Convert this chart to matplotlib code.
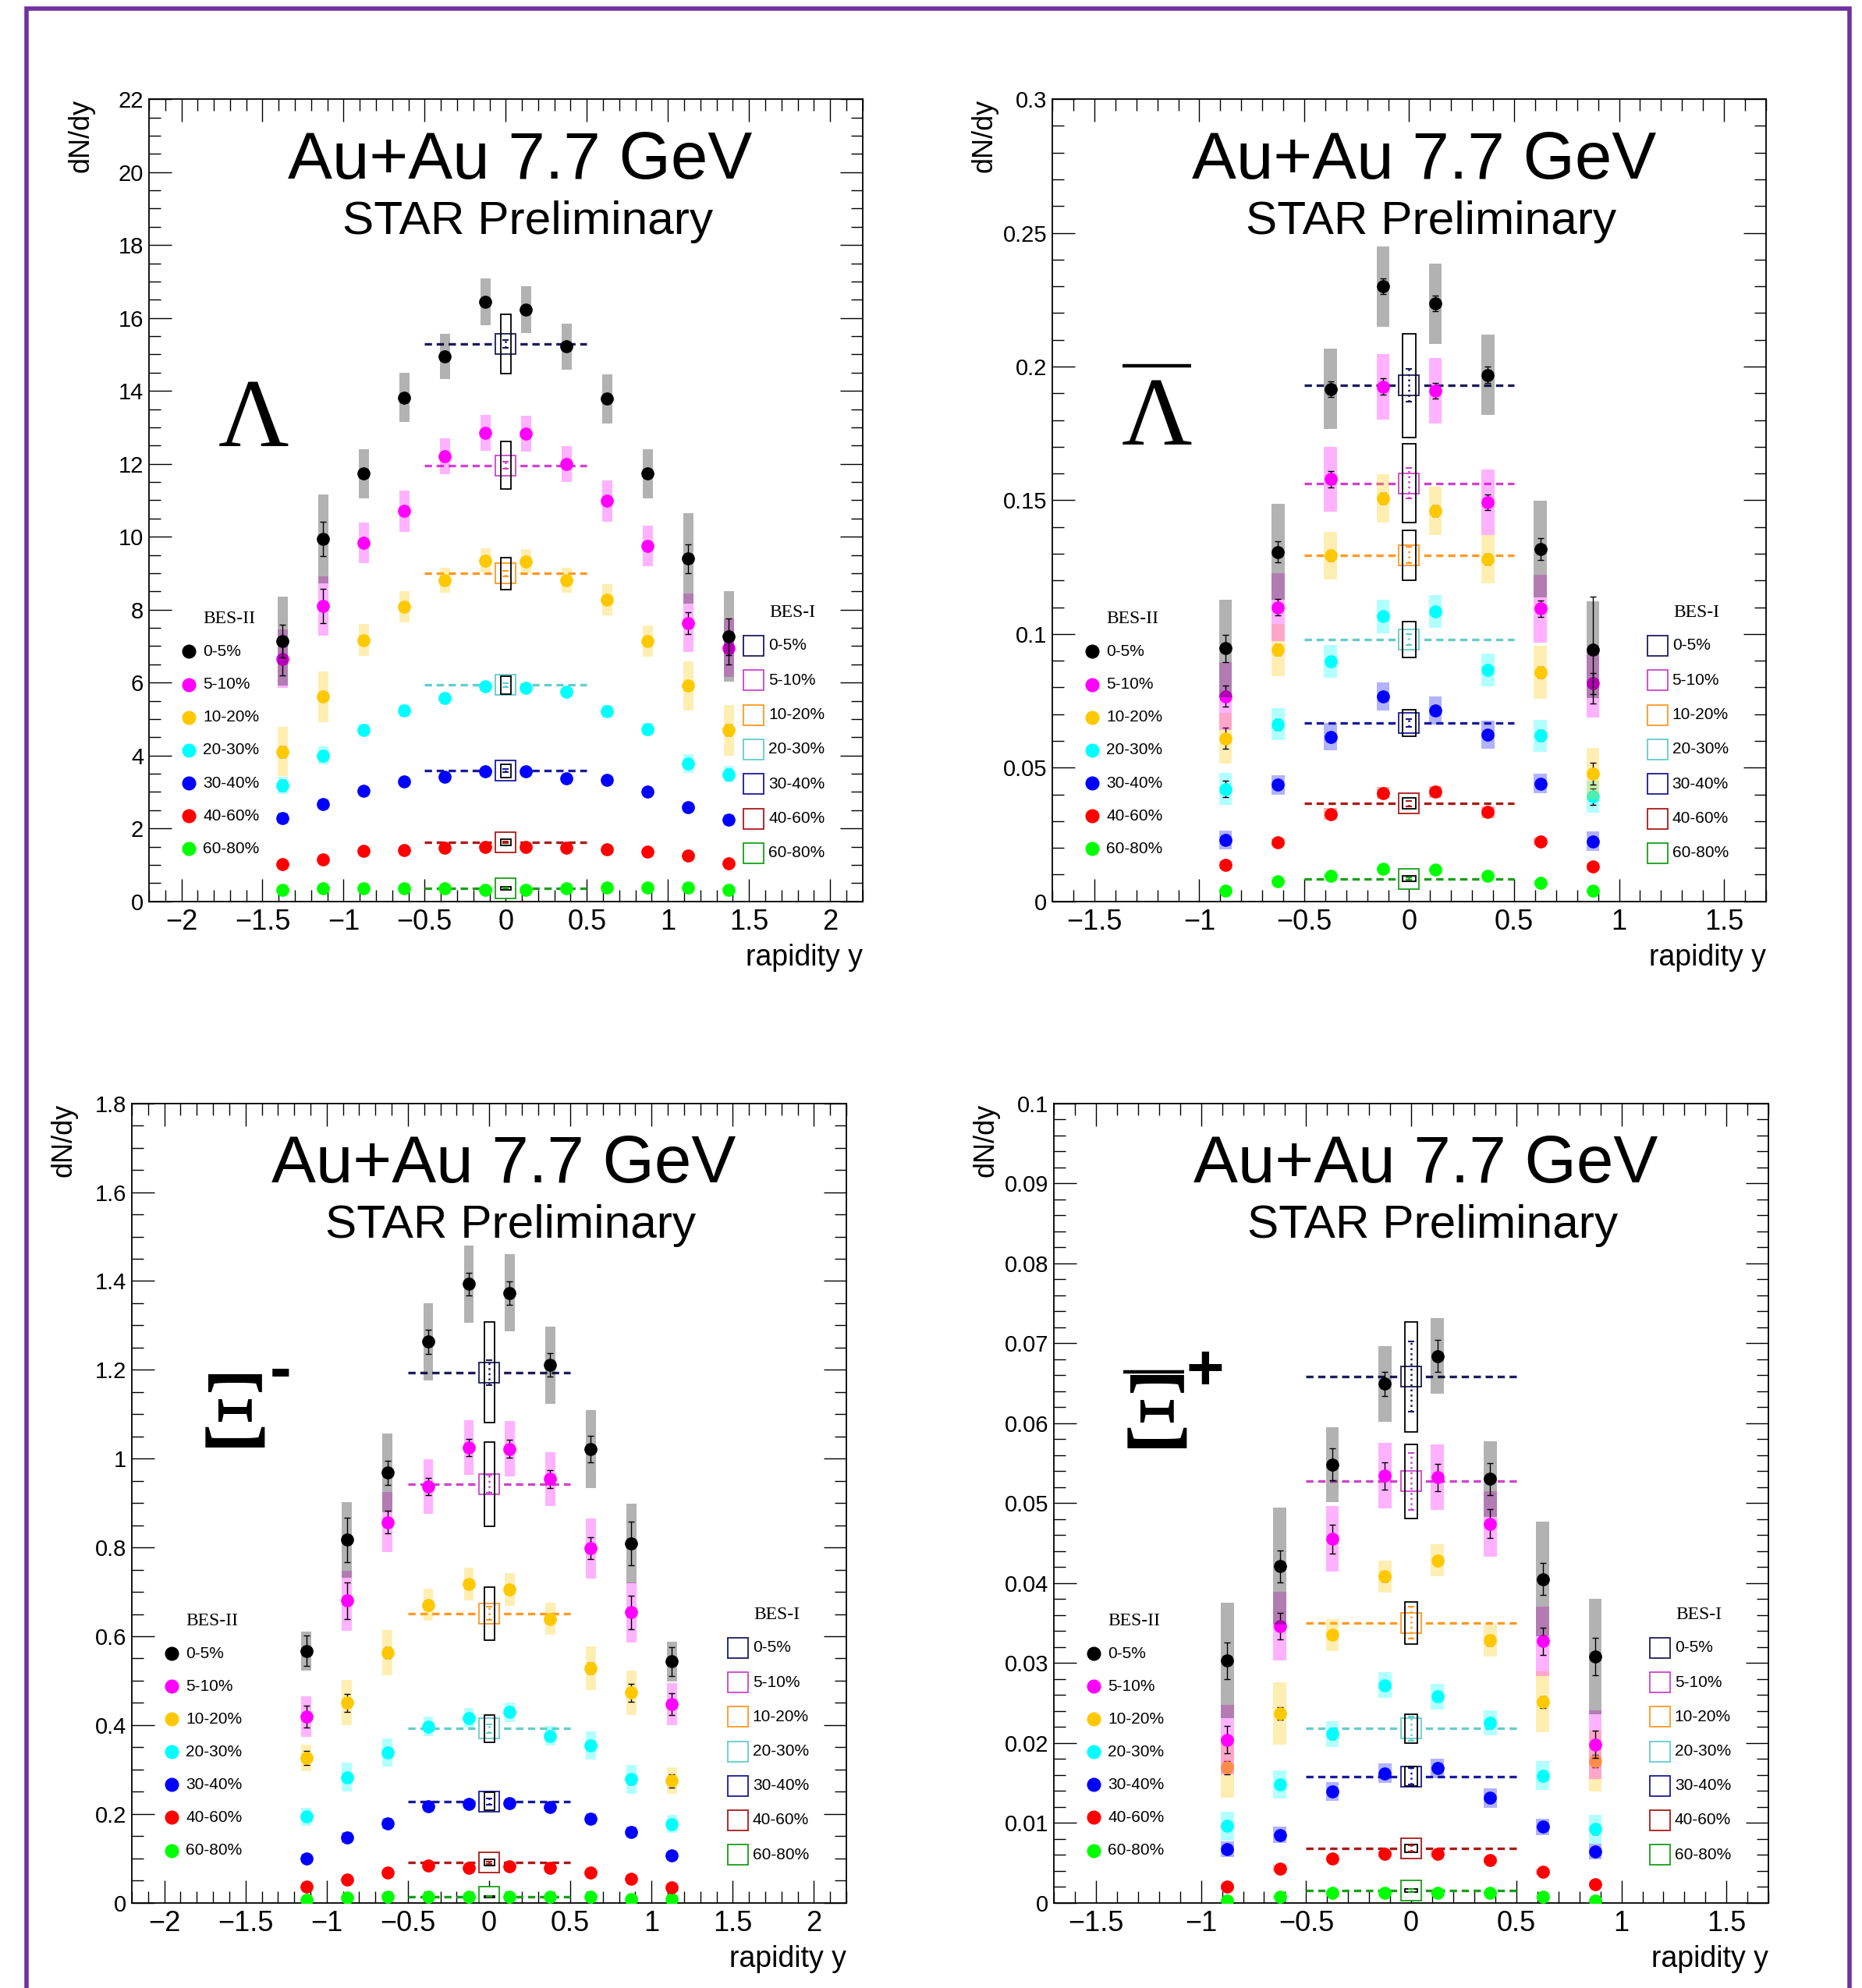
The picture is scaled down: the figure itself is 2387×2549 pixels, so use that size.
import matplotlib
matplotlib.use('Agg')
import matplotlib.pyplot as plt
from matplotlib.patches import Rectangle
from matplotlib.ticker import MultipleLocator, FuncFormatter

plt.rcParams['font.family'] = ['Liberation Sans', 'DejaVu Sans']

# ---------------- data ----------------
centralities = ['0-5%', '5-10%', '10-20%', '20-30%', '30-40%', '40-60%', '60-80%']
bes2_colors = ['#000000', '#FF00FF', '#FFC800', '#00FFFF', '#0000FF', '#FF0000', '#00FF00']
bes1_colors = ['#1C1C5A', '#CC44CC', '#FF9922', '#66CCCC', '#1A1A99', '#AA1A1A', '#1A9E1A']
bes1_range = [-0.5, 0.5]

# Lambda
lam_rap = [-1.375, -1.125, -0.875, -0.625, -0.375, -0.125, 0.125, 0.375, 0.625, 0.875, 1.125, 1.375]
lam_val = [
    [7.14, 9.94, 11.73, 13.82, 14.95, 16.45, 16.22, 15.22, 13.78, 11.73, 9.40, 7.26],
    [6.65, 8.10, 9.84, 10.70, 12.20, 12.85, 12.82, 11.99, 10.98, 9.75, 7.64, 6.95],
    [4.11, 5.61, 7.17, 8.08, 8.80, 9.35, 9.33, 8.80, 8.27, 7.13, 5.91, 4.69],
    [3.18, 4.00, 4.71, 5.23, 5.58, 5.89, 5.85, 5.74, 5.22, 4.73, 3.78, 3.49],
    [2.28, 2.67, 3.04, 3.28, 3.42, 3.57, 3.57, 3.37, 3.33, 3.00, 2.58, 2.23],
    [1.03, 1.15, 1.38, 1.40, 1.46, 1.50, 1.50, 1.46, 1.42, 1.36, 1.25, 1.04],
    [0.32, 0.35, 0.36, 0.36, 0.36, 0.32, 0.32, 0.35, 0.37, 0.37, 0.37, 0.32],
]
lam_stat = [
    [0.45, 0.47, 0.12, 0.10, 0.10, 0.10, 0.10, 0.10, 0.10, 0.12, 0.40, 0.50],
    [0.45, 0.48, 0.10, 0.10, 0.08, 0.08, 0.08, 0.08, 0.10, 0.10, 0.30, 0.45],
    [0.15, 0.12, 0.08, 0.06, 0.06, 0.06, 0.06, 0.06, 0.06, 0.08, 0.12, 0.15],
    [0.15, 0.08, 0.05, 0.05, 0.04, 0.04, 0.04, 0.04, 0.05, 0.05, 0.08, 0.15],
    [0.10, 0.05, 0.04, 0.03, 0.03, 0.03, 0.03, 0.03, 0.03, 0.04, 0.05, 0.10],
    [0.04, 0.03, 0.02, 0.02, 0.02, 0.02, 0.02, 0.02, 0.02, 0.02, 0.03, 0.04],
    [0.02, 0.02, 0.02, 0.02, 0.02, 0.02, 0.02, 0.02, 0.02, 0.02, 0.02, 0.02],
]
lam_sys = [
    [1.22, 1.22, 0.68, 0.68, 0.62, 0.64, 0.64, 0.63, 0.68, 0.68, 1.24, 1.24],
    [0.80, 0.81, 0.56, 0.56, 0.49, 0.49, 0.49, 0.49, 0.57, 0.56, 0.81, 0.80],
    [0.68, 0.69, 0.43, 0.43, 0.34, 0.34, 0.34, 0.34, 0.43, 0.43, 0.68, 0.69],
    [0.23, 0.25, 0.17, 0.17, 0.13, 0.13, 0.13, 0.13, 0.17, 0.17, 0.25, 0.23],
    [0.15, 0.13, 0.09, 0.09, 0.08, 0.08, 0.08, 0.08, 0.09, 0.09, 0.13, 0.15],
    [0.06, 0.06, 0.05, 0.05, 0.04, 0.04, 0.04, 0.04, 0.05, 0.05, 0.06, 0.06],
    [0.03, 0.03, 0.03, 0.03, 0.03, 0.03, 0.03, 0.03, 0.03, 0.03, 0.03, 0.03],
]
lam_b1_val = [15.29, 11.96, 8.99, 5.93, 3.58, 1.62, 0.36]
lam_b1_sys = [0.82, 0.66, 0.44, 0.25, 0.18, 0.08, 0.04]
lam_b1_stat = [0.10, 0.10, 0.08, 0.05, 0.04, 0.02, 0.01]

# anti-Lambda
alam_rap = [-0.875, -0.625, -0.375, -0.125, 0.125, 0.375, 0.625, 0.875]
alam_val = [
    [0.0946, 0.1307, 0.1916, 0.2300, 0.2236, 0.1969, 0.1318, 0.0941],
    [0.0767, 0.1100, 0.1579, 0.1925, 0.1910, 0.1493, 0.1095, 0.0815],
    [0.0610, 0.0941, 0.1293, 0.1508, 0.1460, 0.1279, 0.0857, 0.0477],
    [0.0420, 0.0662, 0.0898, 0.1066, 0.1084, 0.0866, 0.0620, 0.0392],
    [0.0230, 0.0436, 0.0616, 0.0767, 0.0713, 0.0623, 0.0441, 0.0225],
    [0.0136, 0.0221, 0.0326, 0.0405, 0.0410, 0.0334, 0.0223, 0.0131],
    [0.0039, 0.0074, 0.0095, 0.0121, 0.0118, 0.0095, 0.0069, 0.0039],
]
alam_stat = [
    [0.0050, 0.0040, 0.0030, 0.0030, 0.0030, 0.0030, 0.0040, 0.0200],
    [0.0040, 0.0030, 0.0030, 0.0030, 0.0030, 0.0030, 0.0030, 0.0040],
    [0.0040, 0.0020, 0.0020, 0.0020, 0.0020, 0.0020, 0.0020, 0.0040],
    [0.0030, 0.0020, 0.0015, 0.0015, 0.0015, 0.0015, 0.0020, 0.0030],
    [0.0015, 0.0010, 0.0010, 0.0010, 0.0010, 0.0010, 0.0010, 0.0015],
    [0.0010, 0.0008, 0.0008, 0.0008, 0.0008, 0.0008, 0.0008, 0.0010],
    [0.0005, 0.0005, 0.0005, 0.0005, 0.0005, 0.0005, 0.0005, 0.0005],
]
alam_sys = [
    [0.0182, 0.0180, 0.0150, 0.0150, 0.0150, 0.0150, 0.0180, 0.0180],
    [0.0127, 0.0126, 0.0122, 0.0123, 0.0122, 0.0122, 0.0127, 0.0127],
    [0.0096, 0.0098, 0.0090, 0.0090, 0.0090, 0.0090, 0.0098, 0.0097],
    [0.0060, 0.0060, 0.0062, 0.0062, 0.0062, 0.0062, 0.0060, 0.0060],
    [0.0036, 0.0036, 0.0052, 0.0052, 0.0052, 0.0052, 0.0036, 0.0036],
    [0.0015, 0.0015, 0.0022, 0.0022, 0.0022, 0.0022, 0.0015, 0.0015],
    [0.0008, 0.0008, 0.0008, 0.0008, 0.0008, 0.0008, 0.0008, 0.0008],
]
alam_b1_val = [0.1930, 0.1564, 0.1295, 0.0979, 0.0667, 0.0366, 0.0085]
alam_b1_sys = [0.0194, 0.0147, 0.0094, 0.0068, 0.0050, 0.0020, 0.0009]
alam_b1_stat = [0.0060, 0.0056, 0.0030, 0.0020, 0.0015, 0.0010, 0.0005]

# Xi-
xi_rap = [-1.125, -0.875, -0.625, -0.375, -0.125, 0.125, 0.375, 0.625, 0.875, 1.125]
xi_val = [
    [0.567, 0.817, 0.968, 1.263, 1.393, 1.373, 1.211, 1.022, 0.809, 0.543],
    [0.419, 0.680, 0.857, 0.937, 1.025, 1.022, 0.954, 0.798, 0.654, 0.447],
    [0.326, 0.450, 0.563, 0.671, 0.718, 0.706, 0.639, 0.528, 0.473, 0.275],
    [0.194, 0.283, 0.338, 0.397, 0.416, 0.429, 0.376, 0.354, 0.278, 0.177],
    [0.100, 0.147, 0.179, 0.217, 0.223, 0.225, 0.215, 0.189, 0.159, 0.106],
    [0.037, 0.052, 0.068, 0.083, 0.079, 0.082, 0.078, 0.067, 0.054, 0.034],
    [0.007, 0.011, 0.013, 0.013, 0.013, 0.013, 0.013, 0.013, 0.009, 0.009],
]
xi_stat = [
    [0.034, 0.050, 0.028, 0.027, 0.026, 0.026, 0.026, 0.030, 0.050, 0.032],
    [0.025, 0.042, 0.025, 0.020, 0.020, 0.020, 0.020, 0.025, 0.038, 0.025],
    [0.015, 0.020, 0.012, 0.010, 0.010, 0.010, 0.010, 0.012, 0.020, 0.015],
    [0.008, 0.010, 0.008, 0.006, 0.006, 0.006, 0.006, 0.008, 0.012, 0.008],
    [0.005, 0.005, 0.005, 0.005, 0.005, 0.005, 0.005, 0.005, 0.005, 0.005],
    [0.003, 0.003, 0.003, 0.003, 0.003, 0.003, 0.003, 0.003, 0.003, 0.003],
    [0.002, 0.002, 0.002, 0.002, 0.002, 0.002, 0.002, 0.002, 0.002, 0.002],
]
xi_sys = [
    [0.044, 0.085, 0.089, 0.087, 0.087, 0.087, 0.087, 0.088, 0.089, 0.044],
    [0.046, 0.068, 0.068, 0.061, 0.062, 0.062, 0.061, 0.068, 0.068, 0.047],
    [0.030, 0.051, 0.051, 0.036, 0.037, 0.037, 0.036, 0.050, 0.050, 0.030],
    [0.020, 0.032, 0.032, 0.022, 0.022, 0.022, 0.022, 0.032, 0.032, 0.020],
    [0.010, 0.012, 0.012, 0.010, 0.010, 0.010, 0.010, 0.012, 0.012, 0.010],
    [0.005, 0.005, 0.005, 0.005, 0.005, 0.005, 0.005, 0.005, 0.005, 0.005],
    [0.002, 0.002, 0.002, 0.002, 0.002, 0.002, 0.002, 0.002, 0.002, 0.002],
]
xi_b1_val = [1.194, 0.943, 0.651, 0.392, 0.228, 0.090, 0.014]
xi_b1_sys = [0.113, 0.095, 0.060, 0.030, 0.020, 0.007, 0.002]
xi_b1_stat = [0.028, 0.020, 0.015, 0.010, 0.007, 0.003, 0.001]

# anti-Xi+
axi_rap = [-0.875, -0.625, -0.375, -0.125, 0.125, 0.375, 0.625, 0.875]
axi_val = [
    [0.0303, 0.0421, 0.0548, 0.0649, 0.0684, 0.0530, 0.0405, 0.0308],
    [0.0204, 0.0346, 0.0455, 0.0534, 0.0532, 0.0474, 0.0327, 0.0198],
    [0.0169, 0.0237, 0.0335, 0.0408, 0.0428, 0.0328, 0.0251, 0.0177],
    [0.0096, 0.0148, 0.0211, 0.0272, 0.0258, 0.0225, 0.0159, 0.0092],
    [0.0067, 0.0085, 0.0139, 0.0162, 0.0168, 0.0131, 0.0095, 0.0064],
    [0.0020, 0.0043, 0.0055, 0.0061, 0.0061, 0.0053, 0.0039, 0.0023],
    [0.0003, 0.0007, 0.0012, 0.0012, 0.0012, 0.0012, 0.0007, 0.0003],
]
axi_stat = [
    [0.0023, 0.0020, 0.0020, 0.0015, 0.0020, 0.0020, 0.0020, 0.0023],
    [0.0017, 0.0017, 0.0018, 0.0017, 0.0017, 0.0018, 0.0017, 0.0017],
    [0.0008, 0.0008, 0.0006, 0.0006, 0.0006, 0.0006, 0.0007, 0.0008],
    [0.0006, 0.0006, 0.0006, 0.0006, 0.0006, 0.0006, 0.0006, 0.0006],
    [0.0004, 0.0004, 0.0004, 0.0004, 0.0004, 0.0004, 0.0004, 0.0004],
    [0.0003, 0.0003, 0.0003, 0.0003, 0.0003, 0.0003, 0.0003, 0.0003],
    [0.0002, 0.0002, 0.0002, 0.0002, 0.0002, 0.0002, 0.0002, 0.0002],
]
axi_sys = [
    [0.0072, 0.0073, 0.0047, 0.0047, 0.0047, 0.0047, 0.0072, 0.0072],
    [0.0043, 0.0043, 0.0041, 0.0041, 0.0041, 0.0041, 0.0043, 0.0043],
    [0.0038, 0.0039, 0.0020, 0.0020, 0.0020, 0.0020, 0.0038, 0.0038],
    [0.0018, 0.0018, 0.0016, 0.0016, 0.0016, 0.0016, 0.0018, 0.0018],
    [0.0010, 0.0010, 0.0012, 0.0012, 0.0012, 0.0012, 0.0010, 0.0010],
    [0.0004, 0.0004, 0.0004, 0.0004, 0.0004, 0.0004, 0.0004, 0.0004],
    [0.0002, 0.0002, 0.0002, 0.0002, 0.0002, 0.0002, 0.0002, 0.0002],
]
axi_b1_val = [0.0658, 0.0527, 0.0350, 0.0218, 0.0158, 0.0068, 0.0015]
axi_b1_sys = [0.0069, 0.0046, 0.0026, 0.0018, 0.0012, 0.0005, 0.0002]
axi_b1_stat = [0.0044, 0.0036, 0.0020, 0.0015, 0.0010, 0.0004, 0.0002]

# ---------------- helpers ----------------
HW = 0.031  # half width of systematic boxes (rapidity units)


def fmt(v, p):
    s = '%g' % round(v, 6)
    if s == '-0':
        s = '0'
    return s.replace('-', '\u2212')


def style_axes(ax, xlim, ylim, xmaj, xmin, ymaj, ymin):
    ax.set_xlim(*xlim)
    ax.set_ylim(*ylim)
    ax.xaxis.set_major_locator(MultipleLocator(xmaj))
    ax.xaxis.set_minor_locator(MultipleLocator(xmin))
    ax.yaxis.set_major_locator(MultipleLocator(ymaj))
    ax.yaxis.set_minor_locator(MultipleLocator(ymin))
    ax.xaxis.set_major_formatter(FuncFormatter(fmt))
    ax.yaxis.set_major_formatter(FuncFormatter(fmt))
    ax.tick_params(which='both', direction='in', top=True, right=True, width=1.0, color='black')
    ax.tick_params(which='major', length=21)
    ax.tick_params(which='minor', length=10.5)
    ax.tick_params(axis='x', which='major', labelsize=26, pad=7)
    ax.tick_params(axis='y', which='major', labelsize=21, pad=5)
    for s in ax.spines.values():
        s.set_linewidth(1.3)
    ax.text(-0.095, 1.0, 'dN/dy', rotation=90, ha='center', va='top', fontsize=26,
            transform=ax.transAxes)
    ax.text(1.0, -0.080, 'rapidity y', ha='right', va='baseline', fontsize=27,
            transform=ax.transAxes)
    ax.text(0.5205, 0.9007, 'Au+Au 7.7 GeV', ha='center', va='baseline', fontsize=61.5,
            transform=ax.transAxes)
    ax.text(0.5304, 0.8317, 'STAR Preliminary', ha='center', va='baseline', fontsize=43.5,
            transform=ax.transAxes)


def draw_data(ax, rap, val, stat, sys, b1_val, b1_stat, b1_sys):
    # BES-I reference (|y|<0.5)
    for i in range(len(centralities)):
        c = bes1_colors[i]
        ax.plot(bes1_range, [b1_val[i], b1_val[i]], ls=(0, (2.8, 1.8)), color=c, lw=2.4, zorder=2)
        ax.plot([0], [b1_val[i]], ls='none', marker='s', ms=19, mfc='white', mec=c, mew=1.3,
                zorder=2.1)
        ax.add_patch(Rectangle((-HW, b1_val[i] - b1_sys[i]), 2 * HW, 2 * b1_sys[i], fill=False,
                               ec='black', lw=1.3, zorder=2.2))
        eb = ax.errorbar([0], [b1_val[i]], yerr=[b1_stat[i]], fmt='none', ecolor=c,
                         elinewidth=1.8, capsize=3, capthick=1.5, zorder=2.3)
        for b in eb[2]:
            b.set_linestyle(':')
    # BES-II, drawn from peripheral to central
    for i in reversed(range(len(centralities))):
        z = 3 + (6 - i) * 0.1
        c = bes2_colors[i]
        for x, v, s in zip(rap, val[i], sys[i]):
            ax.add_patch(Rectangle((x - HW, v - s), 2 * HW, 2 * s, fc=c, alpha=0.3, ec='none',
                                   zorder=z))
        ax.errorbar(rap, val[i], yerr=stat[i], fmt='none', ecolor='black', elinewidth=1.0,
                    capsize=3, capthick=1.0, zorder=z + 0.01)
        ax.plot(rap, val[i], ls='none', marker='o', ms=11, color=c, mec=c, zorder=z + 0.02)


def draw_legends(ax):
    ax.text(0.0755, 0.3524, 'BES-II', family=['Liberation Serif'], fontsize=17,
            ha='left', va='center', transform=ax.transAxes)
    for i, lab in enumerate(centralities):
        y = 0.3115 - i * 0.041
        ax.plot([0.0554], [y], ls='none', marker='o', ms=12, color=bes2_colors[i],
                transform=ax.transAxes, clip_on=False, zorder=5)
        ax.text(0.0755, y, lab, fontsize=15, ha='left', va='center', transform=ax.transAxes)
    ax.text(0.870, 0.360, 'BES-I', family=['Liberation Serif'], fontsize=17,
            ha='left', va='center', transform=ax.transAxes)
    for i, lab in enumerate(centralities):
        y = 0.3187 - i * 0.0431
        ax.plot([0.8478], [y], ls='none', marker='s', ms=19, mfc='white', mec=bes1_colors[i],
                mew=1.3, transform=ax.transAxes, clip_on=False, zorder=5)
        ax.text(0.8686, y, lab, fontsize=15, ha='left', va='center', transform=ax.transAxes)


def overline(ax, x0, x1, y):
    ax.plot([x0, x1], [y, y], color='black', lw=3.2, solid_capstyle='butt',
            transform=ax.transAxes, clip_on=False)


# ---------------- figure ----------------
fig = plt.figure(figsize=(23.87, 25.49), dpi=100)
fig.patch.set_facecolor('white')

ax1 = fig.add_axes([0.0800, 0.5466, 0.3832, 0.4035])
ax2 = fig.add_axes([0.5652, 0.5466, 0.3832, 0.4035])
ax3 = fig.add_axes([0.0708, 0.0429, 0.3838, 0.4021])
ax4 = fig.add_axes([0.5660, 0.0429, 0.3838, 0.4021])

# Lambda
style_axes(ax1, (-2.2, 2.2), (0, 22), 0.5, 0.1, 2, 0.5)
draw_data(ax1, lam_rap, lam_val, lam_stat, lam_sys, lam_b1_val, lam_b1_stat, lam_b1_sys)
draw_legends(ax1)
ax1.text(0.1465, 0.568, '\u039B', family=['Liberation Serif'], fontsize=90,
         ha='center', va='baseline', transform=ax1.transAxes)

# anti-Lambda
style_axes(ax2, (-1.7, 1.7), (0, 0.3), 0.5, 0.1, 0.05, 0.01)
draw_data(ax2, alam_rap, alam_val, alam_stat, alam_sys, alam_b1_val, alam_b1_stat, alam_b1_sys)
draw_legends(ax2)
ax2.text(0.1464, 0.5697, '\u039B', family=['Liberation Serif'], fontsize=90,
         ha='center', va='baseline', transform=ax2.transAxes)
overline(ax2, 0.0984, 0.1946, 0.668)

# Xi-
style_axes(ax3, (-2.2, 2.2), (0, 1.8), 0.5, 0.1, 0.2, 0.05)
draw_data(ax3, xi_rap, xi_val, xi_stat, xi_sys, xi_b1_val, xi_b1_stat, xi_b1_sys)
draw_legends(ax3)
ax3.text(0.144, 0.569, '\u039E', family=['Liberation Serif'], fontsize=104,
         ha='center', va='baseline', transform=ax3.transAxes)
ax3.text(0.208, 0.6415, '-', family=['Liberation Sans'], fontweight='bold', fontsize=60,
         ha='center', va='baseline', transform=ax3.transAxes)

# anti-Xi+
style_axes(ax4, (-1.7, 1.7), (0, 0.1), 0.5, 0.1, 0.01, 0.002)
draw_data(ax4, axi_rap, axi_val, axi_stat, axi_sys, axi_b1_val, axi_b1_stat, axi_b1_sys)
draw_legends(ax4)
ax4.text(0.1436, 0.568, '\u039E', family=['Liberation Serif'], fontsize=104,
         ha='center', va='baseline', transform=ax4.transAxes)
overline(ax4, 0.0972, 0.1823, 0.664)
ax4.text(0.2113, 0.642, '+', family=['Liberation Sans'], fontweight='bold', fontsize=60,
         ha='center', va='baseline', transform=ax4.transAxes)

# purple frame
fig.add_artist(Rectangle((0.01445, -0.02), 0.9932 - 0.01445, 0.99588 + 0.02,
                         transform=fig.transFigure, fill=False, ec='#7030A0', lw=4))

fig.savefig('out.png', dpi=100, facecolor='white')
